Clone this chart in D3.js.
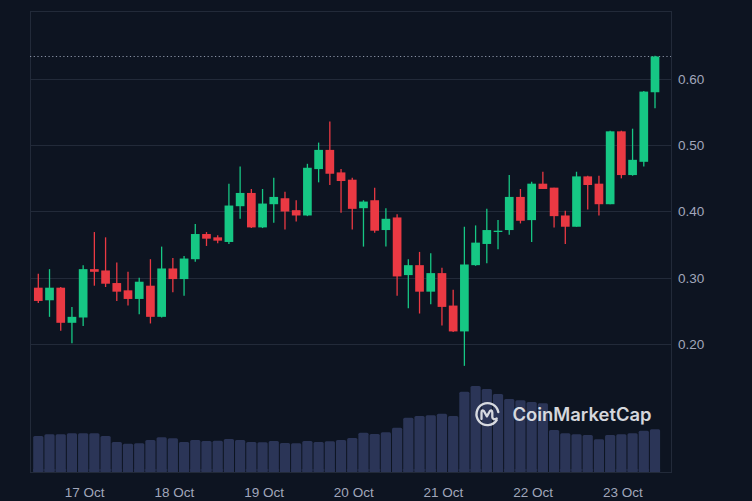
<!DOCTYPE html>
<html><head><meta charset="utf-8">
<script src="https://cdn.jsdelivr.net/npm/d3@7"></script>
<style>
html,body{margin:0;padding:0;background:#0d1421;}
svg{display:block;}
</style></head>
<body>
<svg id="chart" width="752" height="501"></svg>
<script>
// 3-hour candles (UTC)
const times = [
 "2023-10-16 12","2023-10-16 15","2023-10-16 18","2023-10-16 21",
 "2023-10-17 00","2023-10-17 03","2023-10-17 06","2023-10-17 09","2023-10-17 12","2023-10-17 15","2023-10-17 18","2023-10-17 21",
 "2023-10-18 00","2023-10-18 03","2023-10-18 06","2023-10-18 09","2023-10-18 12","2023-10-18 15","2023-10-18 18","2023-10-18 21",
 "2023-10-19 00","2023-10-19 03","2023-10-19 06","2023-10-19 09","2023-10-19 12","2023-10-19 15","2023-10-19 18","2023-10-19 21",
 "2023-10-20 00","2023-10-20 03","2023-10-20 06","2023-10-20 09","2023-10-20 12","2023-10-20 15","2023-10-20 18","2023-10-20 21",
 "2023-10-21 00","2023-10-21 03","2023-10-21 06","2023-10-21 09","2023-10-21 12","2023-10-21 15","2023-10-21 18","2023-10-21 21",
 "2023-10-22 00","2023-10-22 03","2023-10-22 06","2023-10-22 09","2023-10-22 12","2023-10-22 15","2023-10-22 18","2023-10-22 21",
 "2023-10-23 00","2023-10-23 03","2023-10-23 06","2023-10-23 09"
];
const open  = [.285,.266,.285,.232,.240,.313,.311,.292,.281,.268,.288,.241,.314,.298,.328,.366,.361,.354,.408,.428,.376,.411,.420,.402,.394,.464,.493,.459,
               .448,.405,.417,.372,.391,.304,.319,.279,.307,.258,.219,.319,.351,.370,.372,.422,.387,.442,.436,.394,.377,.453,.442,.411,.521,.455,.475,.580];
const high  = [.306,.313,.286,.256,.319,.369,.361,.323,.309,.300,.328,.347,.330,.333,.381,.369,.364,.442,.468,.434,.434,.451,.430,.417,.472,.504,.536,.464,
               .451,.417,.436,.405,.396,.328,.339,.337,.315,.282,.377,.379,.404,.387,.455,.434,.445,.460,.436,.401,.460,.454,.454,.522,.522,.525,.582,.635];
const low   = [.262,.241,.220,.201,.227,.288,.286,.265,.258,.245,.231,.240,.278,.273,.324,.348,.352,.351,.389,.375,.375,.383,.373,.385,.393,.444,.440,.398,
               .373,.347,.368,.347,.273,.254,.246,.260,.228,.218,.167,.318,.322,.343,.365,.382,.354,.434,.376,.351,.377,.403,.394,.411,.450,.454,.468,.556];
const close = [.265,.285,.232,.241,.313,.309,.291,.279,.268,.294,.241,.314,.298,.329,.366,.359,.356,.409,.428,.376,.412,.422,.400,.394,.466,.493,.457,.446,
               .404,.415,.371,.389,.302,.319,.279,.307,.256,.219,.320,.353,.372,.371,.422,.386,.442,.434,.393,.377,.453,.440,.411,.521,.455,.478,.581,.634];
const volume = [36,37.7,37.7,38.7,38.7,38.7,36,30,28.3,28.7,32,34.7,33.7,30,32,31,31.3,33,32,30,29.7,31,29,28.7,31,30,30.7,32,
                34,39.3,38,39.7,44.3,54.3,56,56.7,58.3,56,80.3,86,83,78,73,71.7,70,68.7,42,38.7,37.7,37,32.7,37,37.7,38.7,41.3,42.7];
const yTicks = [0.20,0.30,0.40,0.50,0.60];
const lastPrice = 0.634;

const parse = d3.utcParse("%Y-%m-%d %H");
const data = times.map((t,i)=>({t:parse(t),o:open[i],h:high[i],l:low[i],c:close[i],v:volume[i]}));

const svg = d3.select("#chart");
const W=752,H=501;
const L=30,R=671,T=11,B=472;
const GREEN="#16c784", RED="#ea3943";

svg.append("rect").attr("width",W).attr("height",H).attr("fill","#0d1421");

const x = d3.scaleUtc().domain([data[0].t, data[data.length-1].t]).range([38.3,655]);
const y = d3.scaleLinear().domain([0.2,0.6]).range([344,79]);
const yv = d3.scaleLinear().domain([0,100]).range([B,B-100]);

// frame
svg.append("rect").attr("x",L+0.5).attr("y",T+0.5).attr("width",R-L).attr("height",B-T)
  .attr("fill","none").attr("stroke","#222a39").attr("stroke-width",1);

// grid
svg.append("g").selectAll("line").data(yTicks).join("line")
  .attr("x1",L).attr("x2",R).attr("y1",d=>Math.round(y(d))+0.5).attr("y2",d=>Math.round(y(d))+0.5)
  .attr("stroke","#222a39").attr("stroke-width",1);

// right axis labels
const yAxis = d3.axisRight(y).tickValues(yTicks).tickFormat(d3.format(".2f")).tickSize(0).tickPadding(0);
const gy = svg.append("g").attr("transform",`translate(${R+7},0)`).call(yAxis);
gy.select(".domain").remove();
gy.selectAll("text").attr("fill","#a1a7bb").style("font-family","'Liberation Sans',Arial,sans-serif").style("font-size","13.5px");

// bottom axis labels
const xAxis = d3.axisBottom(x).ticks(d3.utcDay.every(1)).tickFormat(d3.utcFormat("%-d %b")).tickSize(0).tickPadding(0);
const gx = svg.append("g").attr("transform",`translate(1,${B+15})`).call(xAxis);
gx.select(".domain").remove();
gx.selectAll("text").attr("fill","#a1a7bb").style("font-family","'Liberation Sans',Arial,sans-serif").style("font-size","13.5px");

// volume bars
const vw = 10.2;
svg.append("g").selectAll("rect").data(data).join("rect")
  .attr("x",d=>x(d.t)-vw/2).attr("width",vw)
  .attr("y",d=>yv(d.v)).attr("height",d=>B-yv(d.v))
  .attr("rx",1.5).attr("fill","#2b3557");
// square bottoms
svg.append("g").selectAll("rect").data(data).join("rect")
  .attr("x",d=>x(d.t)-vw/2).attr("width",vw)
  .attr("y",d=>B-3).attr("height",3).attr("fill","#2b3557");

// last price dotted line
svg.append("line").attr("x1",L).attr("x2",R).attr("y1",Math.round(y(lastPrice))+0.5).attr("y2",Math.round(y(lastPrice))+0.5)
  .attr("stroke","#8a93a6").attr("stroke-width",1).attr("stroke-dasharray","1.2,2.5");

// candles
const bw = 8.7;
const cg = svg.append("g");
cg.selectAll("line").data(data).join("line")
  .attr("x1",d=>x(d.t)).attr("x2",d=>x(d.t))
  .attr("y1",d=>y(d.h)).attr("y2",d=>y(d.l))
  .attr("stroke",d=>d.c>=d.o?GREEN:RED).attr("stroke-width",1.3);
cg.selectAll("rect").data(data).join("rect")
  .attr("x",d=>x(d.t)-bw/2).attr("width",bw)
  .attr("y",d=>y(Math.max(d.o,d.c)))
  .attr("height",d=>Math.max(1.3,Math.abs(y(d.o)-y(d.c))))
  .attr("fill",d=>d.c>=d.o?GREEN:RED);

// watermark
const wm = svg.append("g").attr("opacity",0.92);
const lg = wm.append("g").attr("transform","translate(487.5,414)");
lg.append("path")
  .attr("d","M 9.2,6.2 A 11 11 0 1 1 10.8,-2")
  .attr("fill","none").attr("stroke","#e6e8ec").attr("stroke-width",2.4).attr("stroke-linecap","round");
lg.append("path")
  .attr("d","M -6,5 L -6,-1.5 Q -6,-5 -3.5,-2.8 L -0.6,2.4 L 2.3,-2.8 Q 4.6,-5 4.8,-1.5 L 4.8,3 Q 5.2,6.5 9.2,4.5")
  .attr("fill","none").attr("stroke","#e6e8ec").attr("stroke-width",2.3).attr("stroke-linecap","round").attr("stroke-linejoin","round");
wm.append("text").attr("x",512.5).attr("y",420.5).text("CoinMarketCap")
  .attr("fill","#e6e8ec").attr("textLength",139).attr("lengthAdjust","spacingAndGlyphs")
  .style("font-family","Inter,'Open Sans',sans-serif").style("font-weight","600").style("font-size","18px");
</script>
</body></html>
